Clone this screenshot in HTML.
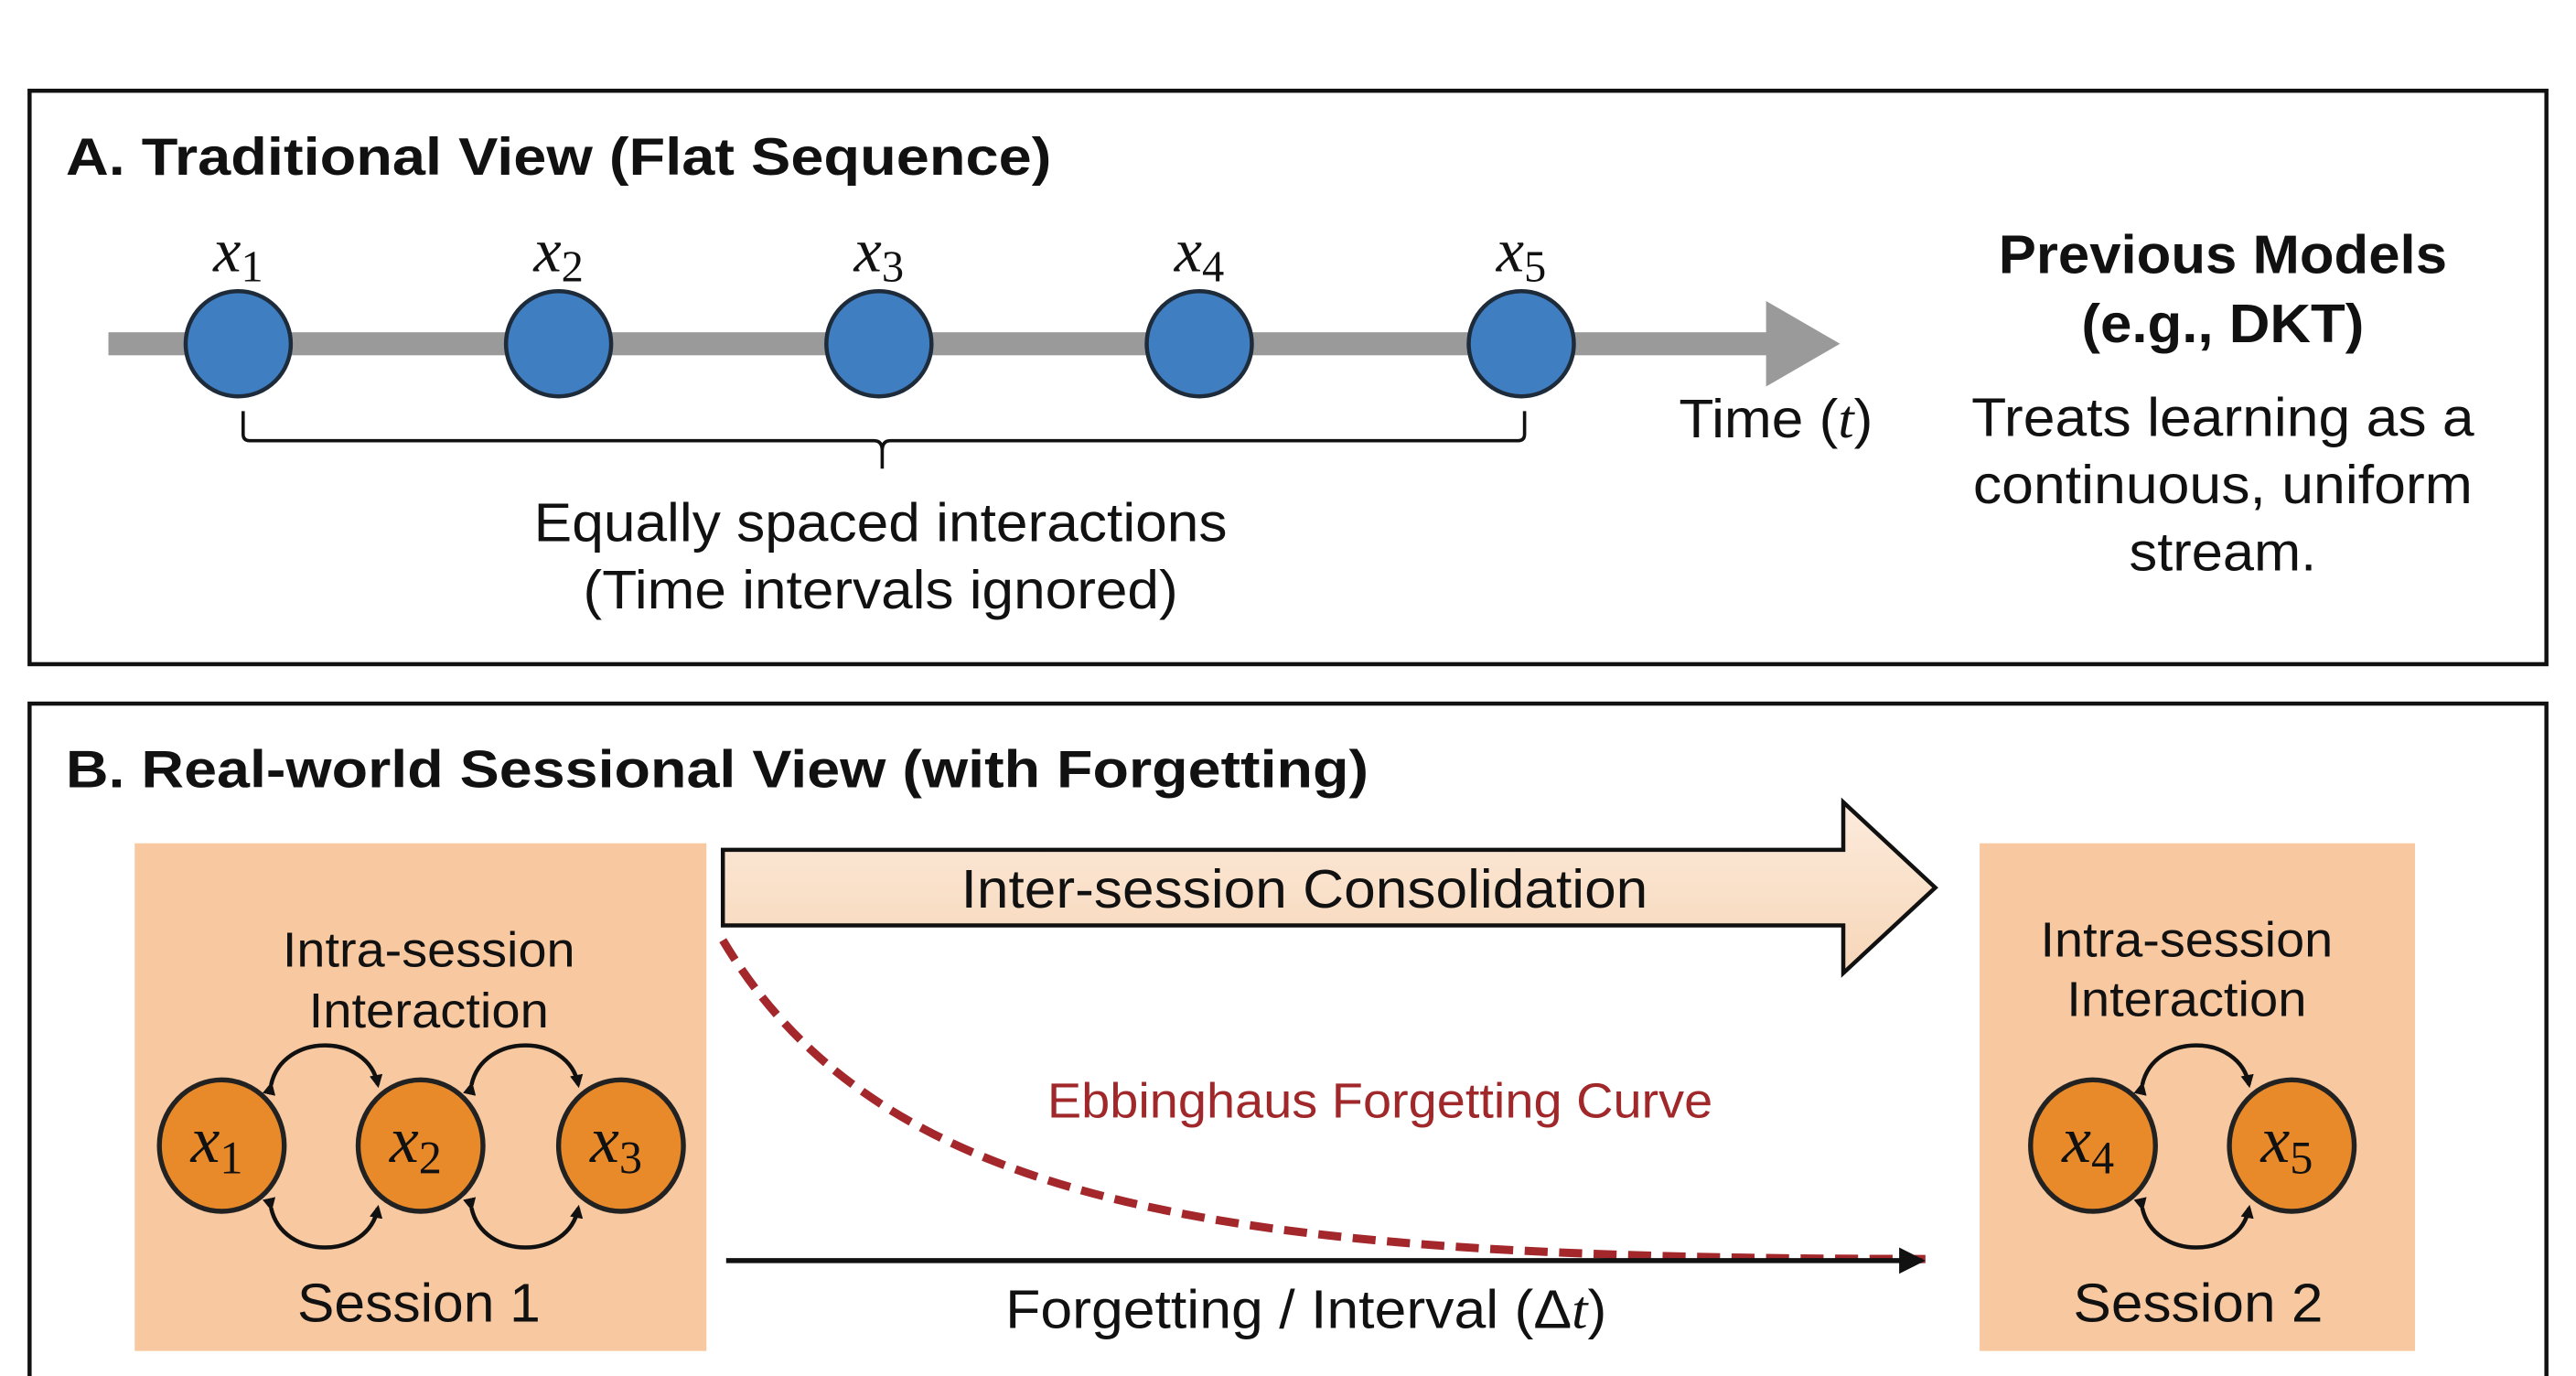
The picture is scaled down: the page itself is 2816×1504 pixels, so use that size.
<!DOCTYPE html>
<html><head><meta charset="utf-8"><style>html,body{margin:0;padding:0;background:#fff}svg{display:block}</style></head>
<body>
<svg xmlns="http://www.w3.org/2000/svg" width="2816" height="1504" viewBox="0 0 1568 837" font-family="'Liberation Sans', sans-serif">
<defs>
<linearGradient id="ag" x1="0" y1="0" x2="0" y2="1"><stop offset="0" stop-color="#fcebdc"/><stop offset="1" stop-color="#f7d6b8"/></linearGradient>
<marker id="ah" markerWidth="8" markerHeight="8" refX="6" refY="4" orient="auto" markerUnits="userSpaceOnUse"><path d="M0,0 L8,4 L0,8 Z" fill="#111"/></marker>
<marker id="big" markerWidth="20" markerHeight="20" refX="14" refY="10" orient="auto" markerUnits="userSpaceOnUse"><path d="M0,2 L16,10 L0,18 Z" fill="#111"/></marker>
</defs>
<rect x="18" y="55" width="1532" height="349" fill="#fff" stroke="#111" stroke-width="2.5"/>
<text x="40" y="106" font-size="32" font-weight="bold" fill="#111" textLength="600" lengthAdjust="spacingAndGlyphs">A. Traditional View (Flat Sequence)</text>
<rect x="66" y="202" width="1012" height="14" fill="#9a9a9a"/>
<path d="M1075,183 L1120,209 L1075,235 Z" fill="#9a9a9a"/>
<g fill="#3f7fc1" stroke="#1d2b3a" stroke-width="2.5">
<circle cx="145" cy="209" r="32"/><circle cx="340" cy="209" r="32"/><circle cx="535" cy="209" r="32"/><circle cx="730" cy="209" r="32"/><circle cx="926" cy="209" r="32"/>
</g>
<g font-family="'Liberation Serif', serif" font-style="italic" font-size="38" fill="#111" text-anchor="middle">
<text x="145" y="165">x<tspan font-size="27" font-style="normal" dy="6">1</tspan></text>
<text x="340" y="165">x<tspan font-size="27" font-style="normal" dy="6">2</tspan></text>
<text x="535" y="165">x<tspan font-size="27" font-style="normal" dy="6">3</tspan></text>
<text x="730" y="165">x<tspan font-size="27" font-style="normal" dy="6">4</tspan></text>
<text x="926" y="165">x<tspan font-size="27" font-style="normal" dy="6">5</tspan></text>
</g>
<path d="M148,250 L148,264 Q148,268 152,268 L532,268 Q537,268 537,274 L537,285 M537,274 Q537,268 542,268 L924,268 Q928,268 928,264 L928,250" fill="none" stroke="#111" stroke-width="2"/>
<g font-size="33" fill="#111" text-anchor="middle">
<text x="536" y="329" textLength="422" lengthAdjust="spacingAndGlyphs">Equally spaced interactions</text>
<text x="536" y="370" textLength="362" lengthAdjust="spacingAndGlyphs">(Time intervals ignored)</text>
<text x="1081" y="266" textLength="118" lengthAdjust="spacingAndGlyphs">Time (<tspan font-family="'Liberation Serif', serif" font-style="italic">t</tspan>)</text>
<text x="1353" y="166" font-weight="bold" textLength="273" lengthAdjust="spacingAndGlyphs">Previous Models</text>
<text x="1353" y="208" font-weight="bold" textLength="172" lengthAdjust="spacingAndGlyphs">(e.g., DKT)</text>
<text x="1353" y="265" textLength="306" lengthAdjust="spacingAndGlyphs">Treats learning as a</text>
<text x="1353" y="306" textLength="304" lengthAdjust="spacingAndGlyphs">continuous, uniform</text>
<text x="1353" y="347" textLength="114" lengthAdjust="spacingAndGlyphs">stream.</text>
</g>
<rect x="18" y="428" width="1532" height="420" fill="#fff" stroke="#111" stroke-width="2.5"/>
<text x="40" y="479" font-size="32" font-weight="bold" fill="#111" textLength="793" lengthAdjust="spacingAndGlyphs">B. Real-world Sessional View (with Forgetting)</text>
<rect x="82" y="513" width="348" height="309" fill="#f8c9a0"/>
<rect x="1205" y="513" width="265" height="309" fill="#f8c9a0"/>
<path d="M440,517 L1122,517 L1122,488 L1178,540 L1122,592 L1122,563 L440,563 Z" fill="url(#ag)" stroke="#111" stroke-width="2.5"/>
<text x="794" y="552" font-size="33" fill="#111" text-anchor="middle" textLength="418" lengthAdjust="spacingAndGlyphs">Inter-session Consolidation</text>
<path d="M440,572 C 540,740 760,766 1172,766" fill="none" stroke="#a3272b" stroke-width="5" stroke-dasharray="14 7"/>
<text x="840" y="680" font-size="30" fill="#a0282a" text-anchor="middle" textLength="405" lengthAdjust="spacingAndGlyphs">Ebbinghaus Forgetting Curve</text>
<line x1="442" y1="767" x2="1170" y2="767" stroke="#111" stroke-width="3" marker-end="url(#big)"/>
<text x="795" y="808" font-size="33" fill="#111" text-anchor="middle" textLength="366" lengthAdjust="spacingAndGlyphs">Forgetting / Interval (Δ<tspan font-family="'Liberation Serif', serif" font-style="italic">t</tspan>)</text>
<g font-size="30" fill="#111" text-anchor="middle">
<text x="261" y="588" textLength="178" lengthAdjust="spacingAndGlyphs">Intra-session</text><text x="261" y="625" textLength="146" lengthAdjust="spacingAndGlyphs">Interaction</text>
<text x="1331" y="582" textLength="178" lengthAdjust="spacingAndGlyphs">Intra-session</text><text x="1331" y="618" textLength="146" lengthAdjust="spacingAndGlyphs">Interaction</text>
</g>
<g font-size="33" fill="#111" text-anchor="middle">
<text x="255" y="804" textLength="148" lengthAdjust="spacingAndGlyphs">Session 1</text><text x="1338" y="804" textLength="152" lengthAdjust="spacingAndGlyphs">Session 2</text>
</g>
<g fill="#e8892a" stroke="#222" stroke-width="3">
<ellipse cx="135" cy="697" rx="38" ry="40"/><ellipse cx="256" cy="697" rx="38" ry="40"/><ellipse cx="378" cy="697" rx="38" ry="40"/>
<ellipse cx="1274" cy="697" rx="38" ry="40"/><ellipse cx="1395" cy="697" rx="38" ry="40"/>
</g>
<g font-family="'Liberation Serif', serif" font-style="italic" font-size="40" fill="#111" text-anchor="middle">
<text x="132" y="707">x<tspan font-size="28" font-style="normal" dy="7">1</tspan></text>
<text x="253" y="707">x<tspan font-size="28" font-style="normal" dy="7">2</tspan></text>
<text x="375" y="707">x<tspan font-size="28" font-style="normal" dy="7">3</tspan></text>
<text x="1271" y="707">x<tspan font-size="28" font-style="normal" dy="7">4</tspan></text>
<text x="1392" y="707">x<tspan font-size="28" font-style="normal" dy="7">5</tspan></text>
</g>
<g fill="none" stroke="#111" stroke-width="2.5" marker-start="url(#ah)" marker-end="url(#ah)">
<path d="M165,660 C 172,628 224,628 230,660"/>
<path d="M287,660 C 294,628 346,628 352,660"/>
<path d="M165,735 C 172,767 224,767 230,735"/>
<path d="M287,735 C 294,767 346,767 352,735"/>
<path d="M1304,660 C 1311,628 1363,628 1369,660"/>
<path d="M1304,735 C 1311,767 1363,767 1369,735"/>
</g>
</svg>
</body></html>
